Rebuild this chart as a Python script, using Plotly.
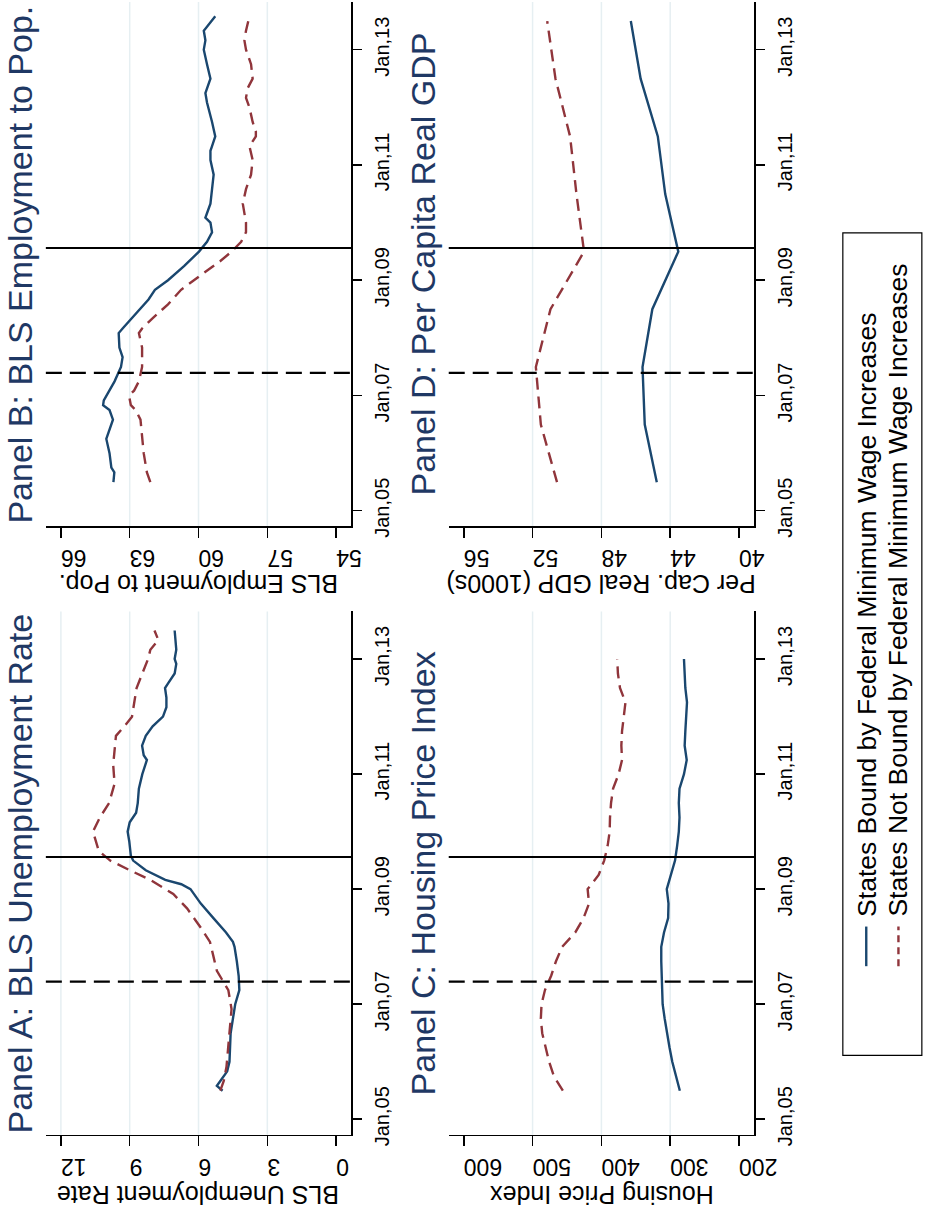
import plotly.graph_objects as go

# ---------------- data ----------------
date_ticks = ["2005-01-01", "2007-01-01", "2009-01-01", "2011-01-01", "2013-01-01"]
date_labels = ["Jan,05", "Jan,07", "Jan,09", "Jan,11", "Jan,13"]
event_dashed = ["2007-05-25"]
event_solid = ["2009-07-24"]

series_names = ["States Bound by Federal Minimum Wage Increases",
                "States Not Bound by Federal Minimum Wage Increases"]

# Panel A: BLS unemployment rate
unemp_bound_dates = ["2005-07", "2005-08", "2005-09", "2005-11", "2006-01", "2006-04", "2006-07", "2006-10",
                     "2007-01", "2007-04", "2007-07", "2007-10", "2008-01", "2008-02", "2008-04", "2008-07",
                     "2008-10", "2009-01", "2009-02", "2009-03", "2009-05", "2009-07", "2009-08", "2009-11",
                     "2010-01", "2010-03", "2010-05", "2010-07", "2010-10", "2011-01", "2011-04", "2011-05",
                     "2011-07", "2011-09", "2011-11", "2012-01", "2012-03", "2012-05", "2012-07", "2012-08",
                     "2012-10", "2012-12", "2013-01", "2013-03", "2013-05", "2013-07"]
unemp_bound = [4.95, 5.2, 5.05, 4.75, 4.65, 4.63, 4.6, 4.5,
               4.4, 4.22, 4.25, 4.33, 4.43, 4.5, 4.8, 5.35,
               5.9, 6.35, 6.75, 7.45, 8.3, 8.85, 8.95, 9.02,
               9.09, 9.0, 8.72, 8.65, 8.6, 8.45, 8.25, 8.39,
               8.46, 8.3, 8.0, 7.55, 7.4, 7.4, 7.46, 7.32,
               7.04, 6.97, 7.04, 6.97, 6.99, 7.04]
unemp_notbound_dates = ["2005-07", "2005-09", "2005-12", "2006-04", "2006-08", "2006-12", "2007-04", "2007-06",
                        "2007-08", "2007-11", "2008-02", "2008-05", "2008-09", "2008-12", "2009-03", "2009-05",
                        "2009-07", "2009-09", "2010-01", "2010-04", "2010-07", "2010-11", "2011-03", "2011-06",
                        "2011-09", "2011-11", "2012-01", "2012-04", "2012-07", "2012-10", "2013-01", "2013-03",
                        "2013-05", "2013-07"]
unemp_notbound = [5.05, 4.9, 4.78, 4.7, 4.63, 4.56, 4.7, 4.95,
                  5.2, 5.35, 5.5, 5.9, 6.5, 7.1, 8.1, 9.0,
                  9.85, 10.35, 10.6, 10.3, 9.9, 9.66, 9.72, 9.66,
                  9.6, 9.23, 8.9, 8.8, 8.7, 8.45, 8.2, 8.1,
                  7.75, 7.92]

# Panel B: BLS employment to population
emp_bound_dates = ["2005-07", "2005-09", "2005-10", "2006-01", "2006-04", "2006-07", "2006-08", "2006-10",
                   "2006-11", "2006-12", "2007-02", "2007-04", "2007-07", "2007-09", "2007-11", "2008-02",
                   "2008-03", "2008-06", "2008-09", "2008-11", "2009-01", "2009-04", "2009-07", "2009-09",
                   "2009-11", "2010-01", "2010-02", "2010-03", "2010-05", "2010-08", "2010-11", "2011-02",
                   "2011-04", "2011-05", "2011-07", "2011-10", "2012-02", "2012-04", "2012-07", "2012-10",
                   "2013-01", "2013-03", "2013-05", "2013-08"]
emp_bound = [63.71, 63.67, 63.8, 63.88, 64.02, 63.8, 63.73, 63.88,
             64.16, 64.13, 63.88, 63.66, 63.38, 63.31, 63.45, 63.48,
             63.31, 62.74, 62.18, 61.9, 61.33, 60.62, 59.98, 59.63,
             59.41, 59.48, 59.7, 59.63, 59.48, 59.41, 59.34, 59.48,
             59.48, 59.41, 59.27, 59.41, 59.63, 59.7, 59.48, 59.63,
             59.77, 59.7, 59.77, 59.27]
emp_notbound_dates = ["2005-07", "2005-09", "2006-01", "2006-04", "2006-08", "2006-10", "2006-11", "2007-01",
                      "2007-02", "2007-04", "2007-07", "2007-11", "2008-02", "2008-03", "2008-05", "2008-08",
                      "2008-11", "2009-02", "2009-05", "2009-07", "2009-09", "2009-11", "2010-01", "2010-05",
                      "2010-08", "2010-11", "2011-02", "2011-05", "2011-07", "2011-08", "2011-10", "2012-01",
                      "2012-03", "2012-05", "2012-07", "2012-10", "2013-01", "2013-03", "2013-05", "2013-08"]
emp_notbound = [62.1, 62.25, 62.39, 62.46, 62.53, 62.74, 62.95, 63.03,
                62.81, 62.6, 62.46, 62.46, 62.6, 62.46, 62.03, 61.33,
                60.76, 59.91, 59.06, 58.56, 58.14, 57.93, 57.93, 58.07,
                57.93, 57.71, 57.64, 57.78, 57.5, 57.5, 57.64, 57.78,
                57.93, 57.86, 57.64, 57.71, 57.93, 58.0, 57.93, 57.78]

# Panel C: housing price index (quarterly)
hpi_dates = ["2005-07", "2005-10", "2006-01", "2006-04", "2006-07", "2006-10", "2007-01", "2007-04",
             "2007-07", "2007-10", "2008-01", "2008-04", "2008-07", "2008-10", "2009-01", "2009-04",
             "2009-07", "2009-10", "2010-01", "2010-04", "2010-07", "2010-10", "2011-01", "2011-04",
             "2011-07", "2011-10", "2012-01", "2012-04", "2012-07", "2012-10", "2013-01"]
hpi_bound = [286, 292, 297, 301, 305, 308, 311, 312,
             313, 313, 313, 309, 303, 302.5, 305, 299,
             293, 290, 287.5, 286.5, 287.5, 286.5, 280, 276,
             279, 278, 277, 275.6, 278, 279, 280]
hpi_notbound = [456, 469, 476, 481, 486, 488, 487, 482,
                473, 466, 457, 438, 426, 418, 420, 404,
                396, 391, 388, 387.5, 386, 383, 375, 370,
                371, 370, 368, 365, 373, 376, 377]

# Panel D: per capita real GDP (annual, 1000s)
gdp_dates = ["2005-07", "2006-07", "2007-07", "2008-07", "2009-07", "2010-07", "2011-07", "2012-07", "2013-07"]
gdp_bound = [44.78, 45.48, 45.61, 45.04, 43.53, 44.29, 44.72, 45.72, 46.29]
gdp_notbound = [50.58, 51.52, 51.81, 50.96, 49.01, 49.45, 49.82, 50.67, 51.15]

# axis ticks / titles per panel
panel_titles = ["Panel A: BLS Unemployment Rate", "Panel B: BLS Employment to Pop.",
                "Panel C: Housing Price Index", "Panel D: Per Capita Real GDP"]
value_titles = ["BLS Unemployment Rate", "BLS Employment to Pop.",
                "Housing Price Index", "Per Cap. Real GDP (1000s)"]
value_ticks = [[0, 3, 6, 9, 12], [54, 57, 60, 63, 66], [200, 300, 400, 500, 600], [40, 44, 48, 52, 56]]
grid_vals = [[3, 6, 9, 12], [57, 60, 63], [300, 400, 500], [44, 48, 52]]

panels = [
    (unemp_bound_dates, unemp_bound, unemp_notbound_dates, unemp_notbound),
    (emp_bound_dates, emp_bound, emp_notbound_dates, emp_notbound),
    (hpi_dates, hpi_bound, hpi_dates, hpi_notbound),
    (gdp_dates, gdp_bound, gdp_dates, gdp_notbound),
]

# ---------------- layout geometry (pixels) ----------------
W, H = 939, 1218
BLUE = "#1a476f"
RED = "#90353b"
NAVY = "#1f3864"
FONT = "Liberation Sans, Arial, sans-serif"

# x pixel span of value axis, y pixel span of date axis
boxes = [
    ((47, 360), (617, 1145)),   # A
    ((47, 360), (2, 531)),      # B
    ((460, 773), (617, 1145)),  # C
    ((460, 773), (2, 531)),     # D
]
title_x = [21, 21, 434, 434]
vt_off = [61, 59, 61, 59]


def px(x):
    return x / W


def py(y):
    return 1 - y / H


fig = go.Figure()
layout = dict(width=W, height=H, margin=dict(l=0, r=0, t=0, b=0),
              paper_bgcolor="white", plot_bgcolor="white", showlegend=False,
              font=dict(family=FONT, color="black"))
shapes = []
annotations = []

for i, (bd, bv, nd, nv) in enumerate(panels):
    n = "" if i == 0 else str(i + 1)
    xa, ya = "x" + n, "y" + n
    (x0, x1), (y0, y1) = boxes[i]
    ticks = value_ticks[i]
    span = max(ticks) - min(ticks)
    pad = span * 15.5 / 283.5
    layout["xaxis" + n] = dict(
        domain=[px(x0), px(x1)], anchor=ya, range=[max(ticks) + pad, min(ticks) - pad],
        tickvals=ticks, ticktext=[str(t) for t in ticks], tickangle=180,
        ticks="outside", ticklen=10, tickwidth=1.5, tickcolor="black",
        showline=True, linecolor="black", linewidth=1.5, showgrid=False, zeroline=False,
        tickfont=dict(size=23, color="black"), ticklabelstandoff=8)
    layout["yaxis" + n] = dict(
        domain=[py(y1), py(y0)], anchor=xa, side="right", type="date",
        range=["2004-09-25", "2013-10-30"],
        tickvals=date_ticks, ticktext=date_labels, tickangle=-90,
        ticks="outside", ticklen=9, tickwidth=1.5, tickcolor="black",
        showline=True, linecolor="black", linewidth=1.5, showgrid=False, zeroline=False,
        tickfont=dict(size=20, color="black"), ticklabelstandoff=3)

    for g in grid_vals[i]:
        shapes.append(dict(type="line", xref=xa, yref=ya + " domain", x0=g, x1=g, y0=0, y1=1,
                           line=dict(color="#e6eff2", width=1.5), layer="below"))
    for d in event_dashed:
        shapes.append(dict(type="line", xref=xa + " domain", yref=ya, x0=0, x1=1, y0=d, y1=d,
                           line=dict(color="black", width=2.2, dash="16px,8px")))
    for d in event_solid:
        shapes.append(dict(type="line", xref=xa + " domain", yref=ya, x0=0, x1=1, y0=d, y1=d,
                           line=dict(color="black", width=2.2)))

    fig.add_trace(go.Scatter(x=bv, y=bd, mode="lines", name=series_names[0], xaxis=xa, yaxis=ya,
                             line=dict(color=BLUE, width=2.4)))
    fig.add_trace(go.Scatter(x=nv, y=nd, mode="lines", name=series_names[1], xaxis=xa, yaxis=ya,
                             line=dict(color=RED, width=2.4, dash="12px,7px")))

    # panel title (rotated)
    annotations.append(dict(text=panel_titles[i], xref="paper", yref="paper",
                            x=px(title_x[i]), y=py((y0 + y1) / 2), textangle=-90,
                            showarrow=False, xanchor="center", yanchor="middle",
                            font=dict(size=34, color=NAVY, family=FONT)))
    # value axis title (upside down)
    annotations.append(dict(text=value_titles[i], xref="paper", yref="paper",
                            x=px((x0 + x1) / 2), y=py(y1 + vt_off[i]), textangle=180,
                            showarrow=False, xanchor="center", yanchor="middle",
                            font=dict(size=25, color="black", family=FONT)))

# legend box (rotated)
shapes.append(dict(type="rect", xref="paper", yref="paper", x0=px(864), x1=px(945),
                   y0=py(1065), y1=py(235), line=dict(color="black", width=1.2)))
leg_x = [888, 921]
leg_styles = [dict(color=BLUE, width=2.4), dict(color=RED, width=2.4, dash="7px,5px")]
for k in range(2):
    shapes.append(dict(type="line", xref="paper", yref="paper", x0=px(leg_x[k]), x1=px(leg_x[k]),
                       y0=py(975), y1=py(935), line=leg_styles[k]))
    annotations.append(dict(text=series_names[k], xref="paper", yref="paper",
                            x=px(leg_x[k]), y=py(927), textangle=-90, showarrow=False,
                            xanchor="center", yanchor="bottom",
                            font=dict(size=26.5, color="black", family=FONT)))

layout["shapes"] = shapes
layout["annotations"] = annotations
fig.update_layout(**layout)
fig.write_html("out.html", config={"displayModeBar": False, "staticPlot": True},
               post_script="document.body.style.margin='0';document.body.style.padding='0';")
